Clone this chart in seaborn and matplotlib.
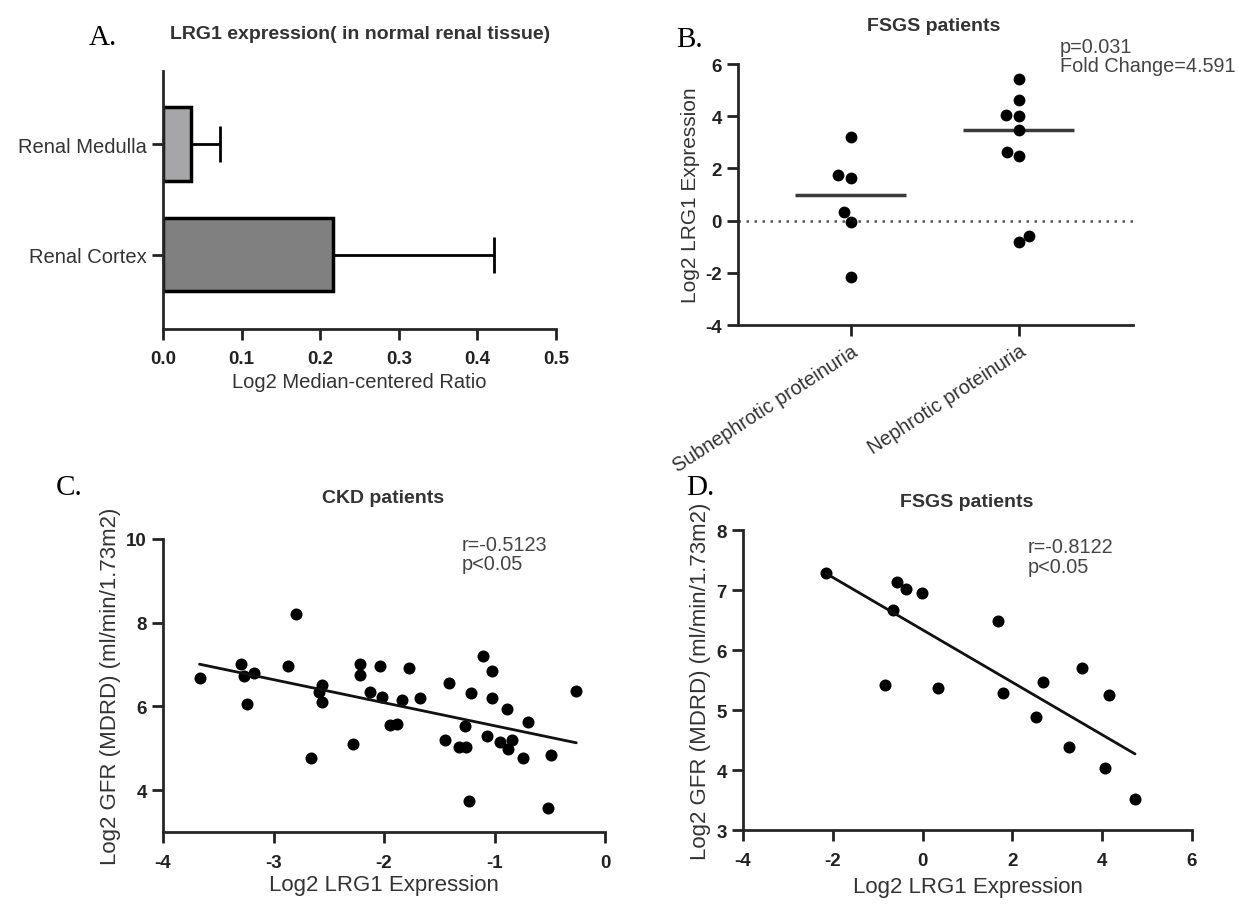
import numpy as np
import pandas as pd
import matplotlib
matplotlib.use("Agg")
import matplotlib.pyplot as plt
import seaborn as sns

# ---- data ----
# A: LRG1 expression in normal renal tissue
tissue = ["Renal Medulla", "Renal Cortex"]
tissue_mean = [0.035, 0.216]
tissue_err = [0.037, 0.205]

# B: FSGS patients, LRG1 by proteinuria group
groups = ["Subnephrotic proteinuria", "Nephrotic proteinuria"]
subnephrotic = [3.20, 1.73, 1.64, 0.32, -0.06, -2.17]
nephrotic = [5.43, 4.64, 4.05, 3.99, 3.49, 2.47, 2.62, -0.83, -0.60]

# C: CKD patients, LRG1 vs GFR
ckd_lrg1 = [-3.67, -3.29, -3.27, -3.18, -3.24, -2.87, -2.80, -2.56, -2.59, -2.56,
            -2.66, -2.28, -2.22, -2.22, -2.13, -2.04, -2.02, -1.95, -1.88, -1.77,
            -1.84, -1.67, -1.41, -1.45, -1.32, -1.26, -1.27, -1.21, -1.23, -1.10,
            -1.02, -1.02, -1.07, -0.95, -0.88, -0.84, -0.89, -0.74, -0.70, -0.49,
            -0.52, -0.26]
ckd_gfr = [6.69, 7.02, 6.72, 6.79, 6.07, 6.97, 8.21, 6.51, 6.35, 6.10,
           4.76, 5.10, 7.02, 6.75, 6.35, 6.97, 6.23, 5.56, 5.58, 6.93,
           6.15, 6.21, 6.57, 5.20, 5.02, 5.02, 5.53, 6.33, 3.75, 7.21,
           6.84, 6.19, 5.30, 5.14, 4.98, 5.20, 5.93, 4.78, 5.62, 4.84,
           3.57, 6.38]

# D: FSGS patients, LRG1 vs GFR
fsgs_lrg1 = [-2.15, -0.57, -0.38, -0.02, -0.66, -0.83, 0.35, 1.67, 1.78,
             2.69, 2.53, 3.54, 4.16, 3.25, 4.06, 4.73]
fsgs_gfr = [7.29, 7.13, 7.01, 6.95, 6.66, 5.41, 5.36, 6.49, 5.28,
            5.47, 4.89, 5.70, 5.25, 4.39, 4.03, 3.51]

sns.set_theme(style="ticks")
plt.rcParams["font.family"] = ["Liberation Sans", "DejaVu Sans"]
plt.rcParams["axes.unicode_minus"] = False
plt.rcParams["axes.linewidth"] = 2
plt.rcParams["xtick.major.width"] = 2
plt.rcParams["ytick.major.width"] = 2
plt.rcParams["xtick.major.size"] = 8
plt.rcParams["ytick.major.size"] = 8

TXT = "#333333"
fig = plt.figure(figsize=(12.39, 9.12), dpi=100)


def style_axes(ax):
    sns.despine(ax=ax)
    ax.tick_params(colors="#222222", labelsize=13.5)


def bold_ticks(ax, which="both"):
    labs = []
    if which in ("both", "x"):
        labs += ax.get_xticklabels()
    if which in ("both", "y"):
        labs += ax.get_yticklabels()
    for lab in labs:
        lab.set_fontweight("bold")


# ---- A ----
ax_a = fig.add_axes([0.1316, 0.6382, 0.3172, 0.2829])
df_a = pd.DataFrame({"tissue": tissue, "mean": tissue_mean})
sns.barplot(data=df_a, x="mean", y="tissue", hue="tissue", palette=["#a6a6a8", "#808080"],
            edgecolor="black", linewidth=2.5, width=0.66, legend=False, ax=ax_a)
ax_a.errorbar(tissue_mean, range(len(tissue)), xerr=[[0] * len(tissue), tissue_err],
              fmt="none", ecolor="black", elinewidth=2, capsize=13, capthick=2)
ax_a.set_xlim(0, 0.5)
ax_a.set_ylim(1.67, -0.66)
ax_a.set_xticks(np.arange(0, 0.51, 0.1))
ax_a.set_xlabel("Log2 Median-centered Ratio", fontsize=14.5, color=TXT, labelpad=4)
ax_a.set_ylabel("")
style_axes(ax_a)
bold_ticks(ax_a, "x")
ax_a.tick_params(axis="x", pad=7)
ax_a.tick_params(axis="y", labelsize=14.5, labelcolor=TXT)

# ---- B ----
ax_b = fig.add_axes([0.5956, 0.6425, 0.3188, 0.2862])
df_b = pd.DataFrame({
    "group": [groups[0]] * len(subnephrotic) + [groups[1]] * len(nephrotic),
    "value": subnephrotic + nephrotic,
})
ax_b.axhline(0, color="#555555", lw=1.8, ls=(0, (1, 2.2)), zorder=1)
sns.boxplot(data=df_b, x="group", y="value", order=groups, width=0.66, whis=0,
            showfliers=False, showcaps=False,
            boxprops={"visible": False}, whiskerprops={"visible": False},
            medianprops={"color": "#3a3a3a", "linewidth": 2.5, "visible": True},
            ax=ax_b)
sns.swarmplot(data=df_b, x="group", y="value", order=groups, color="black",
              size=8.5, ax=ax_b, zorder=3)
ax_b.set_xlim(-0.67, 1.68)
ax_b.set_ylim(-4, 6)
ax_b.set_yticks(np.arange(-4, 7, 2))
ax_b.set_xlabel("")
ax_b.set_ylabel("Log2 LRG1 Expression", fontsize=15, color=TXT, labelpad=4)
style_axes(ax_b)
bold_ticks(ax_b, "y")
ax_b.set_xticks(range(len(groups)))
ax_b.set_xticklabels(groups, rotation=33, ha="right", rotation_mode="anchor",
                     fontsize=14.2, color=TXT)

# ---- C ----
ax_c = fig.add_axes([0.1316, 0.0866, 0.3567, 0.3213])
df_c = pd.DataFrame({"lrg1": ckd_lrg1, "gfr": ckd_gfr})
sns.regplot(data=df_c, x="lrg1", y="gfr", ci=None, truncate=True, ax=ax_c,
            scatter_kws={"s": 75, "color": "black", "alpha": 1, "linewidths": 0},
            line_kws={"color": "#111111", "lw": 2})
ax_c.set_xlim(-4, 0)
ax_c.set_ylim(3, 10)
ax_c.set_xticks(np.arange(-4, 1, 1))
ax_c.set_yticks([4, 6, 8, 10])
ax_c.set_xlabel("Log2 LRG1 Expression", fontsize=16, color=TXT, labelpad=2)
ax_c.set_ylabel("Log2 GFR (MDRD) (ml/min/1.73m2)", fontsize=16, color=TXT, labelpad=4)
style_axes(ax_c)
bold_ticks(ax_c)
ax_c.tick_params(axis="x", pad=8)

# ---- D ----
ax_d = fig.add_axes([0.5997, 0.0888, 0.3624, 0.3289])
df_d = pd.DataFrame({"lrg1": fsgs_lrg1, "gfr": fsgs_gfr})
sns.regplot(data=df_d, x="lrg1", y="gfr", ci=None, truncate=True, ax=ax_d,
            scatter_kws={"s": 75, "color": "black", "alpha": 1, "linewidths": 0},
            line_kws={"color": "#111111", "lw": 2})
ax_d.set_xlim(-4, 6)
ax_d.set_ylim(3, 8)
ax_d.set_xticks(np.arange(-4, 7, 2))
ax_d.set_yticks(np.arange(3, 9, 1))
ax_d.set_xlabel("Log2 LRG1 Expression", fontsize=16, color=TXT, labelpad=5)
ax_d.set_ylabel("Log2 GFR (MDRD) (ml/min/1.73m2)", fontsize=16, color=TXT, labelpad=4)
style_axes(ax_d)
bold_ticks(ax_d)
ax_d.tick_params(axis="x", pad=8)

# ---- titles, panel letters, stats ----
title_kw = dict(fontsize=14, fontweight="bold", color=TXT, ha="center", va="center")
fig.text(0.2906, 0.9620, "LRG1 expression( in normal renal tissue)", **title_kw)
fig.text(0.7538, 0.9704, "FSGS patients", **title_kw)
fig.text(0.3090, 0.4530, "CKD patients", **title_kw)
fig.text(0.7805, 0.4485, "FSGS patients", **title_kw)

letter_kw = dict(fontsize=21, family="Liberation Serif", color="black", ha="left", va="center")
fig.text(0.0718, 0.958, "A.", **letter_kw)
fig.text(0.5456, 0.956, "B.", **letter_kw)
fig.text(0.0452, 0.465, "C.", **letter_kw)
fig.text(0.5537, 0.465, "D.", **letter_kw)

stat_kw = dict(fontsize=14.3, color="#444444", ha="left", va="center", linespacing=1.05)
fig.text(0.8555, 0.9375, "p=0.031\nFold Change=4.591", **stat_kw)
fig.text(0.3729, 0.3914, "r=-0.5123\np<0.05", **stat_kw)
fig.text(0.8297, 0.3890, "r=-0.8122\np<0.05", **stat_kw)

fig.savefig("out.png", dpi=100, facecolor="white")
